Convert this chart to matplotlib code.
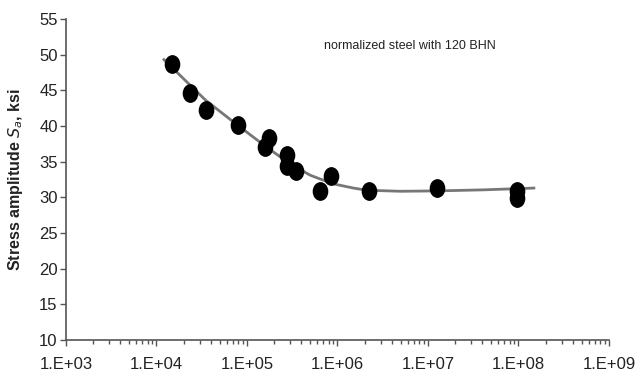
import matplotlib
matplotlib.use('Agg')
import matplotlib.pyplot as plt
from matplotlib.path import Path
import numpy as np

plt.rcParams['font.family'] = ['Liberation Sans', 'DejaVu Sans']

# measured points (cycles, stress amplitude ksi)
cycles = [1.48e4, 2.35e4, 3.5e4, 7.9e4, 1.58e5, 1.75e5, 2.8e5, 2.8e5, 3.5e5,
          6.4e5, 8.5e5, 2.23e6, 1.26e7, 9.6e7, 9.6e7]
stress = [48.7, 44.6, 42.2, 40.1, 37.1, 38.3, 35.9, 34.4, 33.7,
          30.9, 33.0, 30.9, 31.3, 30.9, 29.9]

# trend curve
curve_x = [1.21e4, 2.0e4, 3.5e4, 7.9e4, 1.66e5, 3.0e5, 5.0e5, 8.9e5,
           1.5e6, 2.1e6, 4.9e6, 1.26e7, 4.1e7, 1.48e8]
curve_y = [49.3, 46.6, 43.6, 40.1, 37.0, 34.7, 33.1, 31.9,
           31.3, 31.0, 30.85, 30.9, 31.05, 31.3]

# slightly tall ellipse marker like the original
circ = Path.unit_circle()
ellipse = Path(circ.vertices * [0.82, 1.0], circ.codes)

fig = plt.figure(figsize=(6.37, 3.76), dpi=100)
ax = fig.add_axes([0.1036, 0.0957, 0.8524, 0.8538])

ax.plot(curve_x, curve_y, color='#777777', lw=2, zorder=2)
ax.plot(cycles, stress, linestyle='none', marker=ellipse, color='black', markersize=12.5, zorder=3)

ax.set_xscale('log')
ax.set_xlim(1e3, 1e9)
ax.set_ylim(10, 55)
ax.set_yticks(range(10, 56, 5))
ax.set_xticks([10.0**k for k in range(3, 10)])
ax.set_xticklabels(['1.E+%02d' % k for k in range(3, 10)])

for s in ['top', 'right']:
    ax.spines[s].set_visible(False)
for s in ['left', 'bottom']:
    ax.spines[s].set_color('#555555')
    ax.spines[s].set_linewidth(1.2)
ax.tick_params(axis='both', colors='#555555', labelcolor='#222222', labelsize=12, width=1, length=4)
ax.tick_params(axis='x', which='minor', colors='#555555', length=3, width=1)
ax.tick_params(axis='x', pad=8)
ax.tick_params(axis='y', pad=2)

ax.set_ylabel('Stress amplitude $\\boldsymbol{S_a}$, ksi', fontsize=11.5, fontweight='bold', color='#222222', labelpad=10)
ax.text(6.3e6, 51.2, 'normalized steel with 120 BHN', fontsize=9, color='#222222', ha='center', va='center')

fig.savefig('out.png', dpi=100)
